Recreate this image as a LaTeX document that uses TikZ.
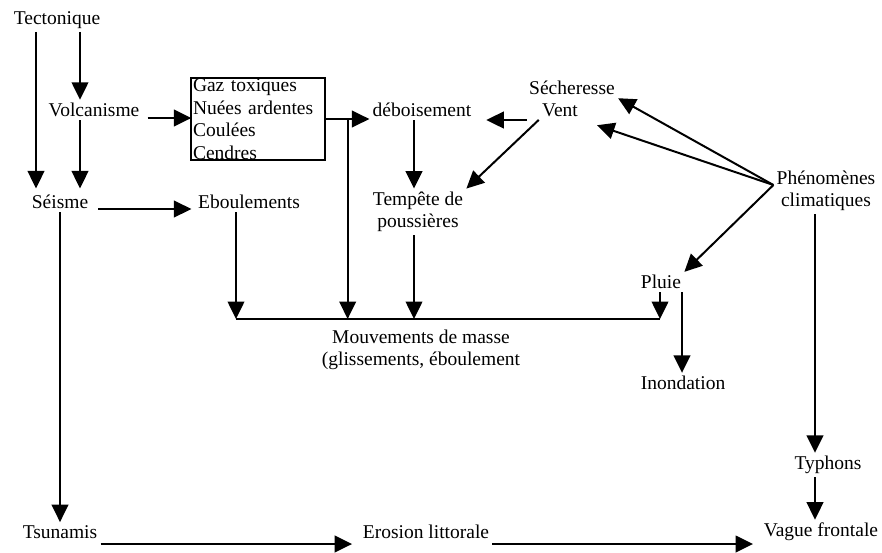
\documentclass[tikz,border=0pt]{standalone}
\usepackage{fontspec}
\setmainfont{Liberation Serif}
\usetikzlibrary{arrows.meta}
\tikzset{every picture/.append style={x=0.6pt, y=-0.6pt}}
\tikzset{
    lbl/.style={inner sep=0pt, outer sep=2pt, align=center,
    	font=\fontsize{11.7}{13.5}\selectfont},
    fl/.style={line width=1.2pt, -{Triangle[length=10.5pt, width=10pt]}}
}

\begin{document}
\begin{tikzpicture}
	\useasboundingbox (0,0) rectangle (882,552);
	\node (1) [lbl] at (57,20) {Tectonique};
	\node (2) [lbl] at (94,110) {Volcanisme};
	\node (3) [lbl, draw, line width=1.2pt, align=left, text width=78pt,
		inner xsep=1pt, inner ysep=0.5pt, outer sep=0pt] at (258,119)
		{Gaz toxiques\\Nuées ardentes\\Coulées\\Cendres};
	\node (4) [lbl] at (60,202) {Séisme};
	\node (5) [lbl] at (249,202) {Eboulements};
	\node (6) [lbl] at (422,110) {déboisement};
	\node (7) [lbl] at (572,88) {Sécheresse};
	\node (8) [lbl] at (560,110) {Vent};
	\node (9) [lbl] at (418,212) {Tempête de\\poussières};
	\node (10) [lbl] at (826,191) {Phénomènes\\climatiques};
	\node (11) [lbl] at (661,282) {Pluie};
	\node (12) [lbl] at (421,350) {Mouvements de masse\\(glissements, éboulement};
	\node (13) [lbl] at (683,383) {Inondation};
	\node (14) [lbl] at (828,465) {Typhons};
	\node (15) [lbl] at (60,532) {Tsunamis};
	\node (16) [lbl] at (426,532) {Erosion littorale};
	\node (17) [lbl] at (821,532) {Vague frontale};

	\coordinate (bw) at (236,319);
	\coordinate (be) at (660,319);
	\coordinate (pc) at ([yshift=3.6pt]10.west);

	\draw[fl, shorten >=2pt] ([xshift=-12.6pt]1.south) coordinate (a) -- (a |- 4.north);
	\draw[fl] ([xshift=13.8pt]1.south) coordinate (b) -- (b |- 2.north);
	\draw[fl, shorten >=2pt] ([xshift=-8.4pt]2.south) coordinate (c) -- (c |- 4.north);
	\draw[fl, shorten <=3pt] ([yshift=-4.8pt]2.east) coordinate (d) -- (d -| 3.west);
	\draw[fl] (3.east) -- (3.east -| 6.west);
	\draw[fl] (3.east) ++(23,0) coordinate (e) -- (e |- bw);
	\draw[fl, shorten <=4pt, shorten >=2pt] ([yshift=-4.2pt]4.east) coordinate (f) -- (f -| 5.west);
	\draw[fl] (4.south) -- (4.south |- 15.north);
	\draw[fl] (5.south -| bw) -- (bw);
	\draw[fl] ([xshift=-2.4pt]9.south) coordinate (g) -- (g |- bw);
	\draw[fl] (11.south -| be) -- (be);
	\draw[line width=1.2pt] (bw) -- (be);
	\draw[fl] ([xshift=-4.8pt]6.south) coordinate (h) -- (h |- 9.north);
	\draw[fl, shorten <=7pt, shorten >=7pt] ([yshift=-6pt]8.west) coordinate (i) -- (i -| 6.east);
	\draw[fl] (8.south west) -- (9.north east);

	\draw[fl] (pc) -- (7.south east);
	\draw[fl, shorten >=10pt] (pc) -- (8.south east);
	\draw[fl] (pc) -- (11.north east);
	\draw[fl] ([xshift=-6.6pt]10.south) coordinate (k) -- (k |- 14.north);
	\draw[fl] ([xshift=12.6pt]11.south) coordinate (l) -- (l |- 13.north);
	\draw[fl] ([xshift=-7.8pt]14.south) coordinate (m) -- (m |- 17.north);
	\draw[fl, shorten >=4.5pt] ([yshift=-7.2pt]15.east) coordinate (n) -- (n -| 16.west);
	\draw[fl, shorten >=4.5pt] ([yshift=-7.2pt]16.east) coordinate (o) -- (o -| 17.west);
\end{tikzpicture}
\end{document}
